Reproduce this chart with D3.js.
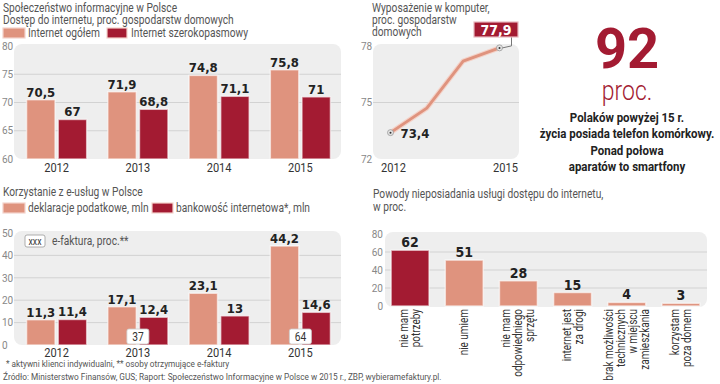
<!DOCTYPE html>
<html>
<head>
<meta charset="utf-8">
<script src="https://d3js.org/d3.v7.min.js"></script>
<style>
body { margin:0; background:#fff; }
text { font-family:Roboto, 'DejaVu Sans Condensed', sans-serif; }
.lt { fill:#555; font-size:12px; }
.ax text { fill:#888; font-size:10px; font-family:Roboto, sans-serif; }
.num { font-family:'DejaVu Sans Condensed',sans-serif; font-weight:bold; fill:#222; font-size:13px; }
.yr { fill:#333; font-size:13px; }
.note { fill:#555; font-size:9.5px; }
.blk { font-weight:bold; fill:#222; font-size:13.5px; }
</style>
</head>
<body>
<svg id="chart" width="720" height="384"></svg>
<script>
// dane
var years = ["2012", "2013", "2014", "2015"];
var internetAll = [70.5, 71.9, 74.8, 75.8];
var internetBroad = [67, 68.8, 71.1, 71];
var pcYears = [2012, 2013, 2014, 2015];
var pcShare = [73.4, 74.7, 77.2, 77.9];
var taxForms = [11.3, 17.1, 23.1, 44.2];
var eBanking = [11.4, 12.4, 13, 14.6];
var eInvoice = [null, 37, null, 64];
var reasons = [["nie mam", "potrzeby"], ["nie umiem"], ["nie mam", "odpowiedniego", "sprzętu"],
  ["internet jest", "za drogi"], ["brak możliwości", "technicznych", "w miejscu", "zamieszkania"],
  ["korzystam", "poza domem"]];
var reasonShare = [62, 51, 28, 15, 4, 3];
var ticks1 = [60, 65, 70, 75, 80];
var ticks2 = [72, 75, 78];
var ticks3 = [0, 10, 20, 30, 40, 50];
var ticks4 = [0, 20, 40, 60, 80];

var light = "#df937e", dark = "#a31b32";
var fmt = function(d) { return String(d).replace(".", ","); };
// font is not condensed, so squeeze text horizontally
var squeeze = { lt: 0.85, yr: 0.85, note: 0.87, blk: 0.85, num: 1 };

var svg = d3.select("#chart");

function tr(x, y, cls) {
  return "translate(" + x + "," + y + ") scale(" + (squeeze[cls] || 1) + ",1)";
}
function label(x, y, str, cls, anchor) {
  return svg.append("text").attr("transform", tr(x, y, cls)).attr("class", cls)
    .attr("text-anchor", anchor || "start").text(str);
}
function panelBg(x0, y0, x1, y1) {
  svg.append("rect").attr("x", x0).attr("y", y0).attr("width", x1 - x0).attr("height", y1 - y0)
    .attr("rx", 8).attr("fill", "#eeeeee");
}
function grid(y, vals, x0, x1) {
  svg.append("g").selectAll("line").data(vals).join("line")
    .attr("x1", x0).attr("x2", x1).attr("y1", d => y(d)).attr("y2", d => y(d))
    .attr("stroke", "#d2d2d2").attr("stroke-width", 1);
}
function yAxis(y, vals, x, anchorEnd) {
  var ax = anchorEnd ? d3.axisLeft(y) : d3.axisRight(y);
  var g = svg.append("g").attr("class", "ax").attr("transform", "translate(" + x + ",0)")
    .call(ax.tickValues(vals).tickFormat(d3.format("d")).tickSize(0).tickPadding(0));
  g.attr("font-family", null).attr("font-size", null);
  g.select(".domain").remove();
}
function swatch(x, y, w, h, c) {
  svg.append("rect").attr("x", x).attr("y", y).attr("width", w).attr("height", h)
    .attr("fill", c).attr("stroke", "#f3d3cb").attr("stroke-width", 1.2);
}

// ---- panel 1: dostep do internetu
label(3, 11.5, "Społeczeństwo informacyjne w Polsce", "lt");
label(3, 23.5, "Dostęp do internetu, proc. gospodarstw domowych", "lt");
swatch(3, 28, 22, 10, light);
label(28, 37, "Internet ogółem", "lt");
swatch(107, 28, 20, 10, dark);
label(131, 37, "Internet szerokopasmowy", "lt");

var x = d3.scaleBand().domain(years).range([16, 341]).paddingInner(0.26).paddingOuter(0.13);
var xs = d3.scaleBand().domain([0, 1]).range([0, x.bandwidth()]).paddingInner(0.1);

function groupedBars(y, a, b, base) {
  var data = [];
  years.forEach(function(yr, i) {
    data.push({ yr: yr, k: 0, v: a[i] });
    data.push({ yr: yr, k: 1, v: b[i] });
  });
  svg.append("g").selectAll("rect").data(data).join("rect")
    .attr("x", d => x(d.yr) + xs(d.k)).attr("width", xs.bandwidth())
    .attr("y", d => y(d.v)).attr("height", d => y(base) - y(d.v))
    .attr("fill", d => d.k ? dark : light)
    .attr("stroke", "rgba(255,255,255,0.6)").attr("stroke-width", 1.5);
  svg.append("g").selectAll("text").data(data).join("text")
    .attr("class", "num").attr("text-anchor", "middle")
    .attr("x", d => x(d.yr) + xs(d.k) + xs.bandwidth() / 2)
    .attr("y", d => y(d.v) - 3).text(d => fmt(d.v));
}
function yearLabels(yPos) {
  svg.append("g").selectAll("text").data(years).join("text").attr("class", "yr")
    .attr("text-anchor", "middle").attr("transform", d => tr(x(d) + x.bandwidth() / 2, yPos, "yr")).text(d => d);
}

var y1 = d3.scaleLinear().domain([60, 80]).range([159, 46]);
panelBg(14, 44, 341, 159);
grid(y1, [65, 70, 75], 14, 341);
yAxis(y1, ticks1, 2);
groupedBars(y1, internetAll, internetBroad, 60);
yearLabels(172);

// ---- panel 2: komputer
label(372, 11.5, "Wyposażenie w komputer,", "lt");
label(372, 23.5, "proc. gospodarstw", "lt");
label(372, 35.5, "domowych", "lt");
var xp = d3.scaleLinear().domain([2012, 2015]).range([390.5, 499.5]);
var yp = d3.scaleLinear().domain([72, 78]).range([159, 46]);
panelBg(373, 44, 519, 159);
grid(yp, [75], 373, 519);
yAxis(yp, ticks2, 361);
var line = d3.line().x((d, i) => xp(pcYears[i])).y(d => yp(d));
svg.append("path").datum(pcShare).attr("d", line).attr("fill", "none")
  .attr("stroke", "#f4d2c8").attr("stroke-width", 5).attr("stroke-linejoin", "round");
svg.append("path").datum(pcShare).attr("d", line).attr("fill", "none")
  .attr("stroke", light).attr("stroke-width", 2.8).attr("stroke-linejoin", "round");
[0, pcShare.length - 1].forEach(function(i) {
  svg.append("circle").attr("cx", xp(pcYears[i])).attr("cy", yp(pcShare[i])).attr("r", 3)
    .attr("fill", "#e4e4e4").attr("stroke", "#999").attr("stroke-width", 0.8);
  svg.append("circle").attr("cx", xp(pcYears[i])).attr("cy", yp(pcShare[i])).attr("r", 1)
    .attr("fill", "#333");
});
label(xp(2012) + 10, yp(pcShare[0]) + 5, fmt(pcShare[0]), "num");
var last = pcShare.length - 1;
svg.append("path")
  .attr("d", "M" + (xp(2015) + 12) + ",37 V" + (yp(pcShare[last]) - 2) + " L" + (xp(2015) + 3) + "," + yp(pcShare[last]))
  .attr("fill", "none").attr("stroke", "#777").attr("stroke-width", 1);
svg.append("rect").attr("x", 474).attr("y", 22).attr("width", 44).attr("height", 15)
  .attr("fill", dark).attr("stroke", "#e8b9bf").attr("stroke-width", 1.2);
label(496, 35, fmt(pcShare[last]), "num", "middle").style("fill", "#fff").style("font-size", "14px");
svg.append("g").selectAll("text").data([2012, 2015]).join("text").attr("class", "yr")
  .attr("text-anchor", "middle").attr("transform", d => tr(xp(d) + (d === 2012 ? 3 : 6), 172, "yr")).text(d => d);

// ---- prawa strona: 92 proc.
label(627, 68, "92", "blk", "middle").style("fill", dark).style("font-size", "56px")
  .attr("transform", "translate(627,68)");
label(627, 100, "proc.", "lt", "middle").style("fill", dark).style("font-size", "27px").style("font-weight", 300);
label(627, 122, "Polaków powyżej 15 r.", "blk", "middle");
label(627, 138, "życia posiada telefon komórkowy.", "blk", "middle");
label(627, 155, "Ponad połowa", "blk", "middle");
label(627, 171, "aparatów to smartfony", "blk", "middle");

// ---- panel 3: e-uslugi
label(3, 196, "Korzystanie z e-usług w Polsce", "lt");
swatch(3, 203, 22, 10, light);
label(28, 212, "deklaracje podatkowe, mln", "lt");
swatch(152, 203, 21, 10, dark);
label(176, 212, "bankowość internetowa*, mln", "lt");

var y3 = d3.scaleLinear().domain([0, 50]).range([345, 233]);
panelBg(14, 231, 341, 345);
grid(y3, [10, 20, 30, 40], 14, 341);
yAxis(y3, ticks3, 2);
groupedBars(y3, taxForms, eBanking, 0);
svg.append("rect").attr("x", 25).attr("y", 235).attr("width", 20).attr("height", 12).attr("rx", 2)
  .attr("fill", "#fff").attr("stroke", "#999").attr("stroke-width", 0.8);
label(35, 244.5, "xxx", "note", "middle").style("fill", "#333").style("font-size", "10px");
label(52, 245, "e-faktura, proc.**", "lt");
var inv = years.map((yr, i) => ({ yr: yr, v: eInvoice[i] })).filter(d => d.v !== null);
svg.append("g").selectAll("rect").data(inv).join("rect")
  .attr("x", d => x(d.yr) + x.bandwidth() / 2 - 11).attr("y", 329).attr("width", 22).attr("height", 15).attr("rx", 2)
  .attr("fill", "#fff").attr("stroke", "#ccc").attr("stroke-width", 0.8);
svg.append("g").selectAll("text").data(inv).join("text").attr("class", "yr").attr("text-anchor", "middle")
  .attr("transform", d => tr(x(d.yr) + x.bandwidth() / 2, 341, "yr")).style("font-size", "12px").text(d => d.v);
yearLabels(357);
label(6, 367, "* aktywni klienci indywidualni, ** osoby otrzymujące e-faktury", "note");
label(3, 380, "Źródło: Ministerstwo Finansów, GUS; Raport: Społeczeństwo Informacyjne w Polsce w 2015 r., ZBP,  wybieramefaktury.pl.", "note");

// ---- panel 4: powody
label(373, 198, "Powody nieposiadania usługi dostępu do internetu,", "lt");
label(373, 211, "w proc.", "lt");
var x4 = d3.scaleBand().domain(d3.range(reasons.length)).range([383, 708]).paddingInner(0.3).paddingOuter(0.15);
var y4 = d3.scaleLinear().domain([0, 80]).range([306, 234]);
panelBg(385, 232, 707, 307);
grid(y4, [20, 40, 60], 385, 707);
yAxis(y4, ticks4, 383, true);
svg.append("g").selectAll("rect").data(reasonShare).join("rect")
  .attr("x", (d, i) => x4(i)).attr("width", x4.bandwidth())
  .attr("y", d => y4(d)).attr("height", d => y4(0) - y4(d))
  .attr("fill", (d, i) => i === 0 ? dark : light)
  .attr("stroke", "rgba(255,255,255,0.6)").attr("stroke-width", 1.5);
svg.append("g").selectAll("text").data(reasonShare).join("text").attr("class", "num")
  .attr("text-anchor", "middle").attr("x", (d, i) => x4(i) + x4.bandwidth() / 2)
  .attr("y", d => y4(d) - 3).style("font-size", "14px").text(d => d);
reasons.forEach(function(lines, i) {
  var cx = x4(i) + x4.bandwidth() / 2;
  lines.forEach(function(s, j) {
    var lx = cx + (j - (lines.length - 1) / 2) * 12 + 4;
    svg.append("text").attr("class", "yr").attr("text-anchor", "end")
      .attr("transform", "translate(" + lx + ",309) rotate(-90) scale(0.83,1)").style("font-size", "12px").text(s);
  });
});
</script>
</body>
</html>
